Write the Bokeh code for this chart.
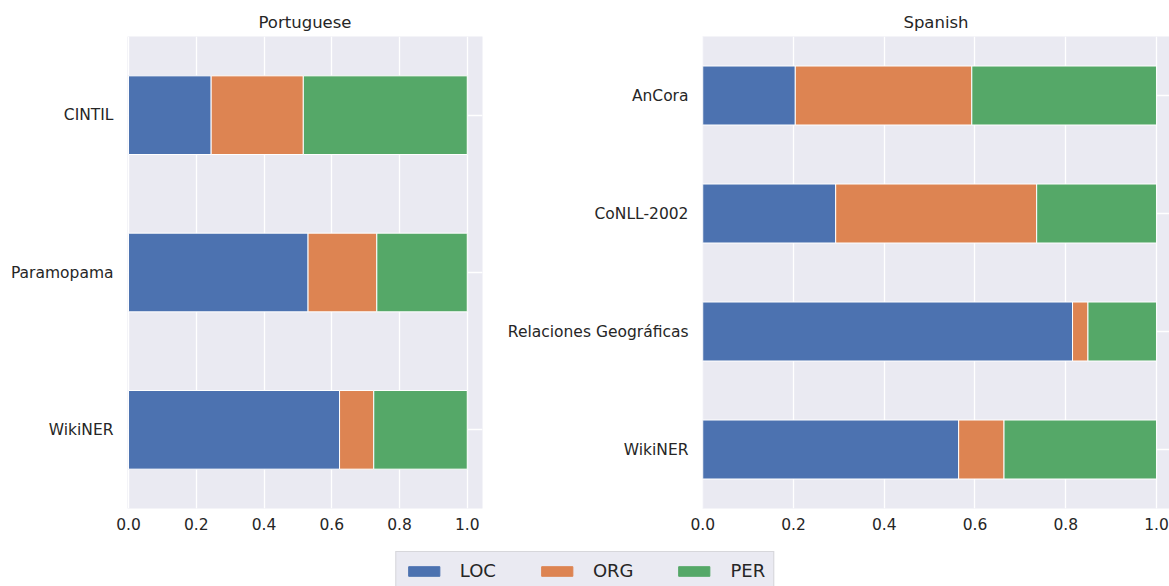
from bokeh.plotting import figure
from bokeh.models import FactorRange, Range1d, Legend, LegendItem, ColumnDataSource, FixedTicker, NumeralTickFormatter
from bokeh.layouts import column, row
from bokeh.embed import file_html
from bokeh.resources import INLINE

# ---- data ----
labels = ["LOC", "ORG", "PER"]
colors = ["#4c72b0", "#dd8452", "#55a868"]

pt_datasets = ["CINTIL", "Paramopama", "WikiNER"]
pt_loc = [0.244, 0.530, 0.623]
pt_org = [0.272, 0.203, 0.101]
pt_per = [0.484, 0.267, 0.276]

es_datasets = ["AnCora", "CoNLL-2002", "Relaciones Geográficas", "WikiNER"]
es_loc = [0.204, 0.293, 0.815, 0.564]
es_org = [0.389, 0.443, 0.034, 0.100]
es_per = [0.407, 0.264, 0.151, 0.336]

xticks = [0.0, 0.2, 0.4, 0.6, 0.8, 1.0]

FONT = "DejaVu Sans"
TXT = "#262626"
BG = "#eaeaf2"


def make_panel(title, cats, loc, org, per, width, border_left, border_right, x_start, x_end):
    src = ColumnDataSource(dict(cat=cats, LOC=loc, ORG=org, PER=per))
    p = figure(width=width, height=542, output_backend="svg", toolbar_location=None,
               y_range=FactorRange(factors=list(reversed(cats))),
               x_range=Range1d(x_start, x_end),
               min_border_left=border_left, min_border_right=border_right,
               min_border_top=36, min_border_bottom=34,
               title=title)
    p.hbar_stack(labels, y="cat", height=0.5, color=colors, source=src,
                 line_color="white", line_width=1)
    p.background_fill_color = BG
    p.border_fill_color = "white"
    p.outline_line_color = None
    p.title.align = "center"
    p.title.text_font = FONT
    p.title.text_font_size = "16.5px"
    p.title.text_font_style = "normal"
    p.title.text_color = TXT
    p.title.standoff = 10
    for ax in (p.xaxis, p.yaxis):
        ax.axis_line_color = None
        ax.major_tick_line_color = None
        ax.minor_tick_line_color = None
        ax.major_label_text_font = FONT
        ax.major_label_text_font_size = "15.5px"
        ax.major_label_text_color = TXT
        ax.major_tick_out = 0
        ax.major_tick_in = 0
    p.xaxis.ticker = FixedTicker(ticks=xticks)
    p.xaxis.formatter = NumeralTickFormatter(format="0.0")
    p.xaxis.major_label_standoff = 9
    p.yaxis.major_label_standoff = 14
    p.xgrid.grid_line_color = "white"
    p.ygrid.grid_line_color = "white"
    p.xgrid.grid_line_width = 1.3
    p.ygrid.grid_line_width = 1.3
    return p


p1 = make_panel("Portuguese", pt_datasets, pt_loc, pt_org, pt_per,
                width=500, border_left=127, border_right=18, x_start=-0.003, x_end=1.045)
p2 = make_panel("Spanish", es_datasets, es_loc, es_org, es_per,
                width=669, border_left=202, border_right=0, x_start=-0.0005, x_end=1.0287)

# legend figure
p3 = figure(width=1169, height=44, output_backend="svg", toolbar_location=None,
            x_range=Range1d(0, 1), y_range=Range1d(0, 1),
            min_border_left=0, min_border_right=0, min_border_top=0, min_border_bottom=0)
p3.axis.visible = False
p3.grid.visible = False
p3.outline_line_color = None
p3.background_fill_color = "white"
items = []
for lab, col in zip(labels, colors):
    r = p3.rect(x=[-10], y=[-10], width=0.1, height=0.1, fill_color=col, line_color=col)
    items.append(LegendItem(label=lab, renderers=[r]))
leg = Legend(items=items, orientation="horizontal", location="top_center",
             background_fill_color=BG, background_fill_alpha=1.0,
             border_line_color="#c4c4c4", border_line_width=1.5,
             glyph_width=39, glyph_height=12, label_standoff=17, spacing=41,
             padding=8, margin=9,
             label_text_font=FONT, label_text_font_size="18px", label_text_color=TXT)
p3.add_layout(leg, "center")

layout = column(row(p1, p2), p3)
open("out.html", "w").write(file_html(layout, INLINE))
